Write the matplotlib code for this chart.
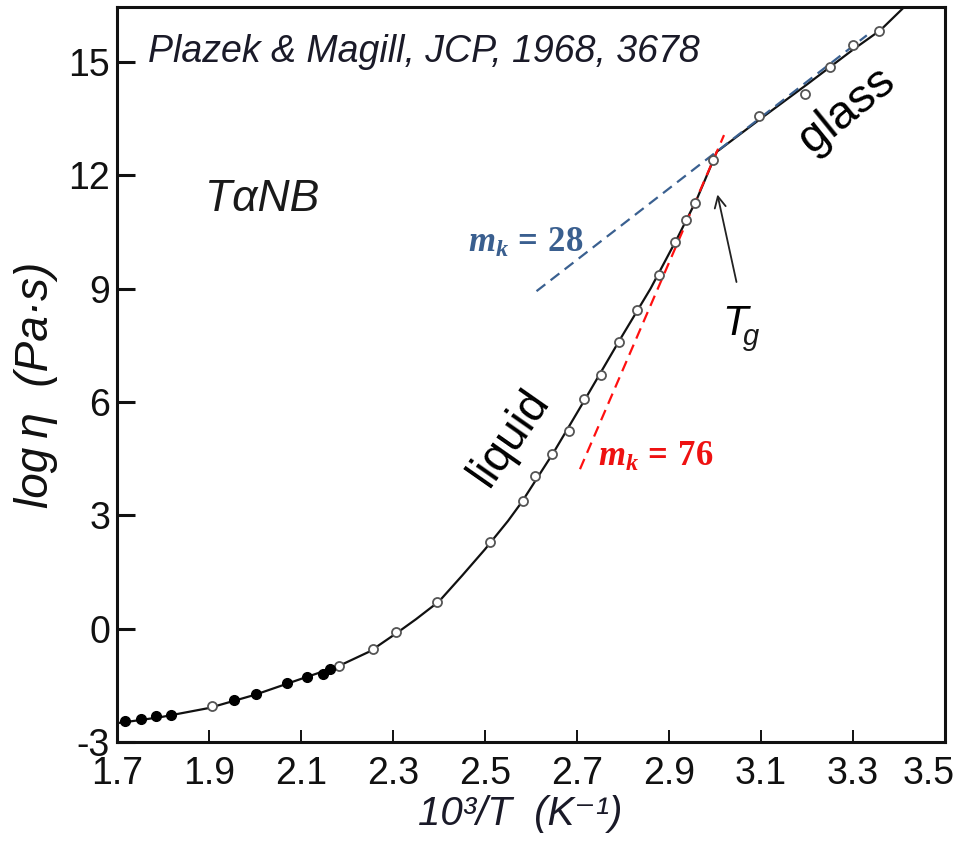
import numpy as np
import matplotlib.pyplot as plt
import matplotlib.transforms as mtransforms

# data read from Plazek & Magill, TaNB viscosity
filled_x = [1.717, 1.752, 1.785, 1.817, 1.954, 2.002, 2.069, 2.112, 2.147, 2.163]
filled_y = [-2.45, -2.40, -2.32, -2.29, -1.90, -1.72, -1.45, -1.29, -1.19, -1.08]

open_x = [1.906, 2.183, 2.256, 2.307, 2.395, 2.511, 2.582, 2.609, 2.646, 2.683,
          2.716, 2.752, 2.791, 2.830, 2.879, 2.913, 2.936, 2.957, 2.995,
          3.096, 3.196, 3.249, 3.301, 3.357]
open_y = [-2.05, -0.99, -0.55, -0.09, 0.70, 2.30, 3.39, 4.04, 4.62, 5.23,
          6.07, 6.70, 7.59, 8.42, 9.35, 10.22, 10.80, 11.27, 12.40,
          13.57, 14.16, 14.86, 15.44, 15.81]

# guide curve (liquid + glass branches)
curve_x = [1.70, 1.75, 1.80, 1.90, 2.00, 2.10, 2.18, 2.25, 2.31, 2.35, 2.40,
           2.45, 2.50, 2.55, 2.58, 2.65, 2.72, 2.79, 2.86, 2.92, 2.96, 3.00,
           3.004, 3.10, 3.20, 3.30, 3.36, 3.42]
curve_y = [-2.50, -2.42, -2.33, -2.10, -1.75, -1.33, -1.00, -0.60, -0.10, 0.25,
           0.72, 1.40, 2.10, 2.85, 3.35, 4.68, 6.12, 7.58, 9.00, 10.38, 11.35,
           12.50, 12.62, 13.50, 14.40, 15.32, 15.84, 16.55]

# fragility tangents
blue_x = [2.612, 3.330]
blue_y = [8.93, 15.70]
red_x = [2.7065, 3.0196]
red_y = [4.22, 13.06]

x_ticks = [1.7, 1.9, 2.1, 2.3, 2.5, 2.7, 2.9, 3.1, 3.3, 3.5]
x_labels = ["1.7", "1.9", "2.1", "2.3", "2.5", "2.7", "2.9", "3.1", "3.3", "3.5"]
y_ticks = [-3, 0, 3, 6, 9, 12, 15]
y_labels = ["-3", "0", "3", "6", "9", "12", "15"]

plt.rcParams["font.family"] = ["Liberation Sans", "DejaVu Sans"]
plt.rcParams["mathtext.fontset"] = "custom"
plt.rcParams["mathtext.it"] = "Liberation Serif:bold:italic"
plt.rcParams["mathtext.rm"] = "Liberation Serif:bold"
plt.rcParams["mathtext.bf"] = "Liberation Serif:bold"

fig = plt.figure(figsize=(9.63, 8.49), dpi=100)
ax = fig.add_axes([0.1215, 0.126, 0.8598, 0.8658])

ax.plot(curve_x, curve_y, color="#111111", lw=1.6, zorder=3)
ax.plot(blue_x, blue_y, color="#3a6090", lw=1.6, ls=(0, (5, 3)), zorder=4)
ax.plot(red_x, red_y, color="#ff1010", lw=1.6, ls=(0, (5, 3)), zorder=4)
ax.plot(open_x, open_y, ls="none", marker="o", ms=6.5, mfc="white",
        mec="#555555", mew=1.3, zorder=5)
ax.plot(filled_x, filled_y, ls="none", marker="o", ms=7, mfc="black",
        mec="black", zorder=5)

ax.set_xlim(1.7, 3.5)
ax.set_ylim(-3, 16.45)
ax.set_xticks(x_ticks, x_labels)
ax.set_yticks(y_ticks, y_labels)
ax.tick_params(axis="both", direction="in", labelsize=27, colors="#111111")
ax.tick_params(axis="y", length=13, width=2.2, pad=5)
ax.tick_params(axis="x", length=9, width=1.4, pad=10)
for s in ax.spines.values():
    s.set_linewidth(2.2)
    s.set_color("#111111")

# keep the last x label inside the canvas, like the original
last = ax.xaxis.get_major_ticks()[-1].label1
last.set_transform(last.get_transform() +
                   mtransforms.ScaledTranslation(-12 / 72, 0, fig.dpi_scale_trans))

# texts
ax.text(1.767, 15.25, "Plazek & Magill, JCP, 1968, 3678", style="italic",
        fontsize=27, color="#1a1a28", ha="left", va="center")
ax.text(1.891, 11.35, "T\u03b1NB", style="italic", fontsize=32,
        color="#1a1a1a", ha="left", va="center")
ax.text(2.463, 10.21, r"$m_k\,=\,28$", fontsize=25, color="#3a5f8f",
        ha="left", va="center")
ax.text(2.746, 4.56, r"$m_k\,=\,76$", fontsize=25, color="#ee1111",
        ha="left", va="center")
ax.text(2.554, 5.07, "liquid", fontsize=33, rotation=55, color="black",
        ha="center", va="center", rotation_mode="anchor")
ax.text(3.286, 13.72, "glass", fontsize=34, rotation=39, color="black",
        ha="center", va="center", rotation_mode="anchor")
ax.text(3.015, 7.78, "T", style="italic", fontsize=30, color="black",
        ha="left", va="baseline")
ax.text(3.061, 7.50, "g", style="italic", fontsize=21, color="#1a1a1a",
        ha="left", va="baseline")
ax.annotate("", xy=(3.004, 11.56), xytext=(3.048, 9.10),
            arrowprops=dict(arrowstyle="->,head_length=0.8,head_width=0.4",
                            color="#222222", lw=1.3))

fig.text(0.037, 0.5465, "log\u2009\u03b7  (Pa\u00b7s)", rotation=90,
         style="italic", fontsize=33, ha="center", va="center",
         color="#111111")
fig.text(0.540, 0.041, "10\u00b3/T  (K\u207b\u00b9)", style="italic",
         fontsize=29, ha="center", va="center", color="#1a1a28")

fig.savefig("out.png", dpi=100)
